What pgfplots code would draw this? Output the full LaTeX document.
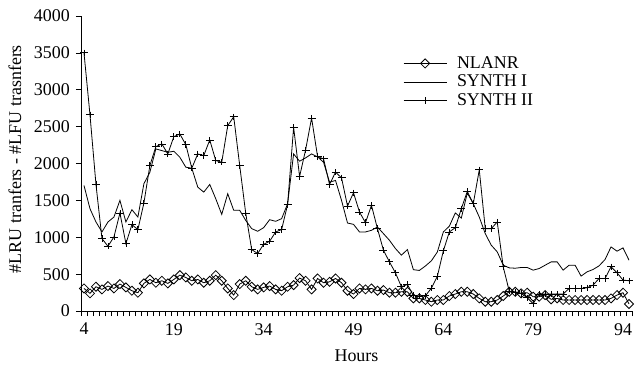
\documentclass[border=0pt]{standalone}
\usepackage{fontspec}
\setmainfont{Liberation Serif}
\usepackage{pgfplots}
\pgfplotsset{compat=1.18}
\usepackage{pgfplotstable}

% hourly differences in transfer counts (LRU minus LFU)
\pgfplotstableread{
h  nlanr synthI synthII
4  306 1702 3500
5  239 1387 2660
6  329 1207 1716
7  293 1072 982
8  338 1207 878
9  306 1274 1004
10 365 1500 1328
11 320 1207 914
12 275 1374 1171
13 248 1274 1104
14 374 1725 1463
15 428 1882 1972
16 383 2198 2229
17 410 2175 2265
18 374 2152 2130
19 428 2166 2364
20 486 2085 2400
21 455 1950 2256
22 410 1936 1936
23 428 1679 2130
24 383 1612 2108
25 410 1716 2319
26 486 1522 2040
27 410 1310 2017
28 306 1590 2513
29 216 1365 2634
30 365 1365 1972
31 410 1229 1328
32 329 1117 833
33 293 1081 779
34 320 1130 905
35 338 1238 946
36 293 1216 1072
37 275 1252 1104
38 329 1455 1446
39 351 2130 2490
40 446 2031 1824
41 410 2076 2184
42 293 2130 2616
43 441 2090 2094
44 383 2017 2063
45 396 1747 1716
46 441 1770 1882
47 383 1500 1806
48 275 1193 1423
49 230 1175 1603
50 306 1072 1342
51 293 1072 1198
52 306 1094 1432
53 275 1139 1117
54 284 1049 824
55 248 959 666
56 248 847 518
57 261 757 329
58 260 833 360
59 171 560 210
60 171 550 200
61 149 610 205
62 126 680 310
63 149 800 470
64 149 1072 815
65 203 1150 1072
66 230 1330 1130
67 261 1260 1387
68 261 1600 1621
69 230 1455 1455
70 171 1274 1914
71 126 1049 1117
72 126 892 1117
73 149 802 1207
74 203 621 599
75 261 585 270
76 261 580 250
77 239 590 239
78 248 590 180
79 194 554 100
80 194 576 230
81 216 621 230
82 158 666 230
83 171 666 230
84 149 554 230
85 149 621 306
86 149 621 306
87 149 473 306
88 149 531 315
89 149 563 351
90 149 612 441
91 149 698 441
92 171 869 599
93 216 811 518
94 248 856 419
95 95 689 410
}\hourly

\begin{document}
\fontsize{18}{21}\selectfont
\begin{tikzpicture}
\useasboundingbox (-81bp,-55bp) rectangle (554bp,311bp);
\begin{axis}[
  at={(0,0)}, anchor=south west,
  scale only axis, width=551bp, height=295bp,
  xmin=3.5, xmax=95.5, ymin=0, ymax=4000,
  axis x line=bottom, axis y line=left,
  axis line style={-, line width=0.8bp},
  xtick={3.5,4.5,...,95.5}, xticklabels={},
  extra x ticks={4,19,34,49,64,79,94},
  extra x tick labels={4,19,34,49,64,79,94},
  extra x tick style={major tick length=0pt},
  xticklabel style={yshift=-6bp},
  ytick={0,500,...,4000},
  tick align=outside,
  major tick length=5bp,
  tick style={black, line width=0.6bp},
  /pgf/number format/assume math mode=true,
  /pgf/number format/1000 sep={},
  xlabel={Hours},
  ylabel={\#LRU tranfers - \#LFU trasnfers},
  xlabel style={at={(axis description cs:0.5,-0.15)}, anchor=center},
  ylabel style={at={(axis description cs:-0.12,0.515)}, anchor=center},
  legend style={draw=none, fill=none, at={(0.579,0.878)}, anchor=north west,
    column sep=8bp, font=\fontsize{18}{21}\selectfont},
  legend cell align=left,
  legend image code/.code={\draw[mark repeat=2,mark phase=2,#1] plot coordinates {(0bp,0bp)(21.5bp,0bp)(43bp,0bp)};},
]
\addplot[black, line width=0.8bp, mark=square, mark size=3.2bp,
  mark options={rotate=45, solid}] table[x=h, y=nlanr]{\hourly};
\addlegendentry{NLANR}
\addplot[black, line width=0.8bp] table[x=h, y=synthI]{\hourly};
\addlegendentry{SYNTH I}
\addplot[black, line width=0.8bp, mark=+, mark size=4bp,
  mark options={yscale=0.8, solid}] table[x=h, y=synthII]{\hourly};
\addlegendentry{SYNTH II}
\end{axis}
\end{tikzpicture}
\end{document}
